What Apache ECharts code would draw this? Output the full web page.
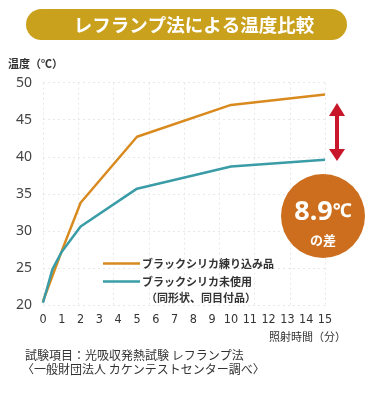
<!DOCTYPE html>
<html><head><meta charset="utf-8">
<script src="https://cdn.jsdelivr.net/npm/echarts@6/dist/echarts.min.js"></script>
<style>html,body{margin:0;padding:0;background:#fff}#c{width:379px;height:396px}</style>
</head><body><div id="c"></div>
<script>
var seriesNames = ['ブラックシリカ練り込み品', 'ブラックシリカ未使用'];
var minutesA = [0, 1, 2, 5, 10, 15];
var tempA = [20.5, 27.3, 33.8, 42.7, 47.0, 48.4];
var minutesB = [0, 0.5, 1, 2, 5, 10, 15];
var tempB = [20.3, 24.8, 27.2, 30.6, 35.7, 38.7, 39.6];
var xTicks = [0,1,2,3,4,5,6,7,8,9,10,11,12,13,14,15];
var yTicks = [20,25,30,35,40,45,50];

var font = '"Noto Sans CJK JP", "Noto Sans", sans-serif';
function pairs(xs, ys){ return xs.map(function(x,i){return [x, ys[i]];}); }

var chart = echarts.init(document.getElementById('c'), null, {renderer:'canvas'});
chart.setOption({
  animation:false,
  textStyle:{fontFamily:font},
  grid:{left:43, right:54, top:82.7, bottom:91, containLabel:false},
  xAxis:[{
    type:'value', min:xTicks[0], max:xTicks[xTicks.length-1], interval:1,
    axisLine:{show:false}, axisTick:{show:false},
    splitLine:{show:false},
    axisLabel:{color:'#333', fontSize:12.5, margin:8, fontFamily:'"DejaVu Sans Condensed", "Noto Sans", sans-serif'}
  },{
    type:'value', min:0, max:16, interval:2, show:true,
    position:'bottom',
    axisLine:{show:false}, axisTick:{show:false}, axisLabel:{show:false},
    splitLine:{show:true, lineStyle:{color:'#e8e8e8', type:[2,3], width:1}}
  }],
  yAxis:{
    type:'value', min:yTicks[0], max:yTicks[yTicks.length-1], interval:5,
    axisLine:{show:false}, axisTick:{show:false},
    splitLine:{show:true, lineStyle:{color:'#e8e8e8', type:[2,3], width:1}},
    axisLabel:{color:'#444', fontSize:14, margin:11, fontFamily:'"Noto Sans", sans-serif'}
  },
  legend:{
    orient:'vertical', left:98, top:253, itemGap:7,
    icon:'rect', itemWidth:37, itemHeight:2.5,
    textStyle:{color:'#333', fontSize:11, fontWeight:'bold', fontFamily:font, padding:[0,0,0,-3]},
    data:seriesNames
  },
  series:[{
    name:seriesNames[0], type:'line', data:pairs(minutesA,tempA), showSymbol:false, symbol:'none',
    lineStyle:{color:'#D98A1E', width:2.5}, itemStyle:{color:'#D98A1E'}
  },{
    name:seriesNames[1], type:'line', data:pairs(minutesB,tempB), showSymbol:false, symbol:'none',
    lineStyle:{color:'#3A9CA6', width:2.5}, itemStyle:{color:'#3A9CA6'}
  }],
  graphic:[
    {type:'rect', z:100, shape:{x:26, y:9, width:321, height:31, r:15.5}, style:{fill:'#C9A11D'}},
    {type:'text', z:101, x:194, y:25, style:{text:'レフランプ法による温度比較', fill:'#fff', font:'bold 18.5px '+font, textAlign:'center', textVerticalAlign:'middle'}},
    {type:'text', z:101, x:8, y:64, style:{text:'温度（℃）', fill:'#333', font:'bold 11px '+font, textAlign:'left', textVerticalAlign:'middle'}},
    {type:'text', z:101, x:146, y:298, style:{text:'（同形状、同目付品）', fill:'#333', font:'bold 11px '+font, textAlign:'left', textVerticalAlign:'middle'}},
    {type:'text', z:101, x:346, y:337, style:{text:'照射時間（分）', fill:'#333', font:'11px '+font, textAlign:'right', textVerticalAlign:'middle'}},
    {type:'text', z:101, x:25, y:355, style:{text:'試験項目：光吸収発熱試験 レフランプ法', fill:'#333', font:'12px '+font, textAlign:'left', textVerticalAlign:'middle'}},
    {type:'text', z:101, x:22, y:369, style:{text:'〈一般財団法人 カケンテストセンター調べ〉', fill:'#333', font:'12px '+font, textAlign:'left', textVerticalAlign:'middle'}},
    {type:'circle', z:100, shape:{cx:323, cy:216, r:42}, style:{fill:'#CC6E1E'}},
    {type:'text', z:101, x:323, y:212, style:{text:'{a|8.9}{b|℃}', rich:{a:{fill:'#fff', fontSize:27, fontWeight:'bold', fontFamily:'"Noto Sans", sans-serif'}, b:{fill:'#fff', fontSize:19, fontWeight:'bold', fontFamily:'"Noto Sans", sans-serif'}}, textAlign:'center', textVerticalAlign:'middle'}},
    {type:'text', z:101, x:323, y:240, style:{text:'の差', fill:'#fff', font:'bold 13px '+font, textAlign:'center', textVerticalAlign:'middle'}},
    {type:'line', z:100, shape:{x1:337, y1:112, x2:337, y2:153}, style:{stroke:'#C8172A', lineWidth:4}},
    {type:'polygon', z:100, shape:{points:[[337,103],[329,116],[345,116]]}, style:{fill:'#C8172A'}},
    {type:'polygon', z:100, shape:{points:[[337,161],[329,149],[345,149]]}, style:{fill:'#C8172A'}}
  ]
});
</script></body></html>
